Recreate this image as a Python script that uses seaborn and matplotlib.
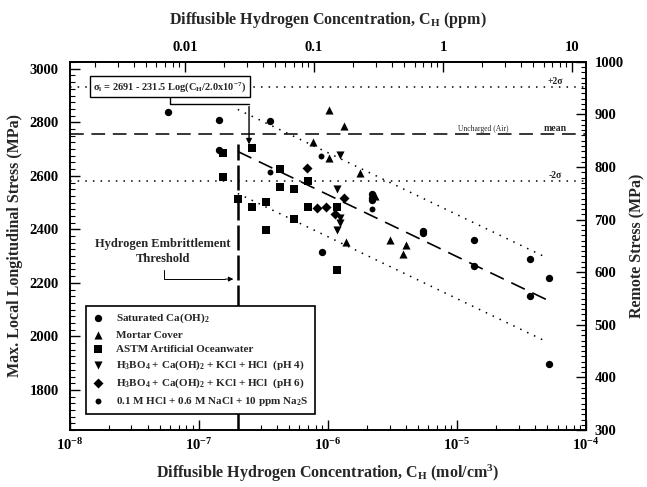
import numpy as np
import pandas as pd
import matplotlib
matplotlib.use("Agg")
import matplotlib.pyplot as plt
from matplotlib.ticker import FixedLocator, LogLocator, MultipleLocator, NullFormatter, FixedFormatter
import seaborn as sns

# ---- measured data: (concentration mol/cm^3, max local longitudinal stress MPa) ----
sat_caoh2_c = [5.75e-8, 1.43e-7, 1.43e-7, 3.55e-7, 8.98e-7, 2.19e-6, 2.19e-6, 2.19e-6,
               5.45e-6, 5.45e-6, 1.35e-5, 1.35e-5, 3.68e-5, 3.68e-5, 5.16e-5, 5.16e-5]
sat_caoh2_s = [2838, 2808, 2695, 2804, 2315, 2533, 2518, 2511,
               2394, 2387, 2360, 2263, 2289, 2150, 2217, 1898]

mortar_c = [1.02e-6, 1.33e-6, 7.66e-7, 1.02e-6, 1.77e-6, 2.31e-6, 1.38e-6, 3.03e-6, 4.03e-6, 3.81e-6]
mortar_s = [2845, 2786, 2725, 2665, 2609, 2526, 2353, 2360, 2342, 2308]

astm_c = [1.53e-7, 1.53e-7, 2.58e-7, 2.0e-7, 4.25e-7, 4.25e-7, 5.45e-7, 7.0e-7,
          2.58e-7, 3.30e-7, 3.30e-7, 5.45e-7, 7.0e-7, 1.17e-6, 1.17e-6]
astm_s = [2684, 2597, 2703, 2515, 2624, 2557, 2549, 2579,
          2485, 2503, 2398, 2439, 2485, 2485, 2248]

ph4_c = [1.24e-6, 1.17e-6, 1.24e-6, 1.24e-6, 1.17e-6]
ph4_s = [2676, 2549, 2443, 2424, 2398]

ph6_c = [6.87e-7, 1.33e-6, 8.22e-7, 9.64e-7, 1.13e-6]
ph6_s = [2628, 2518, 2481, 2485, 2458]

hcl_c = [3.55e-7, 8.83e-7, 2.19e-6]
hcl_s = [2616, 2673, 2477]

series_labels = [
    "Saturated Ca(OH)$_2$",
    "Mortar Cover",
    "ASTM Artificial Oceanwater",
    "H$_3$BO$_4$ + Ca(OH)$_2$ + KCl + HCl  (pH 4)",
    "H$_3$BO$_4$ + Ca(OH)$_2$ + KCl + HCl  (pH 6)",
    "0.1 M HCl + 0.6 M NaCl + 10 ppm Na$_2$S",
]

# regression and reference levels
fit_a, fit_b, c_threshold = 2691.0, 231.5, 2.0e-7
fit_c_end = 5.0e-5
band_halfwidth = 157.0
air_mean, air_sigma = 2755.0, 88.0
threshold_top = 2720.0

# axis tick values
bottom_ticks = [1e-8, 1e-7, 1e-6, 1e-5, 1e-4]
top_ticks = [0.01, 0.1, 1, 10]
top_tick_labels = ["0.01", "0.1", "1", "10"]
ppm_per_molcm3 = 1.0 / 7.8e-6

# ---- style ----
sns.set_theme(style="ticks")
plt.rcParams.update({
    "font.family": ["Liberation Serif", "DejaVu Serif"],
    "font.weight": "bold",
    "axes.labelweight": "bold",
    "mathtext.fontset": "custom",
    "mathtext.rm": "Liberation Serif:bold",
    "mathtext.it": "Liberation Serif:italic:bold",
    "mathtext.bf": "Liberation Serif:bold",
    "mathtext.default": "rm",
    "axes.linewidth": 1.2,
    "axes.edgecolor": "black",
    "xtick.color": "black",
    "ytick.color": "black",
})

fig = plt.figure(figsize=(6.47, 4.87), dpi=100)
ax = fig.add_axes([0.108, 0.117, 0.798, 0.756])

frames = []
for lab, c, s in zip(series_labels,
                     [sat_caoh2_c, mortar_c, astm_c, ph4_c, ph6_c, hcl_c],
                     [sat_caoh2_s, mortar_s, astm_s, ph4_s, ph6_s, hcl_s]):
    frames.append(pd.DataFrame({"conc": c, "stress": s, "solution": lab}))
df = pd.concat(frames, ignore_index=True)

marker_map = dict(zip(series_labels, ["o", "^", "s", "v", "D", "o"]))
size_map = dict(zip(series_labels, [28, 34, 32, 34, 26, 18]))

for lab in series_labels:
    sub = df[df["solution"] == lab]
    sns.scatterplot(data=sub, x="conc", y="stress", marker=marker_map[lab],
                    s=size_map[lab], color="black", edgecolor="black",
                    linewidth=0, label=lab, ax=ax, zorder=4)

ax.set_xscale("log")
ax.set_xlim(1e-8, 1e-4)
ax.set_ylim(1650, 3026)

# regression line and prediction band
fit_df = pd.DataFrame({"conc": np.logspace(np.log10(c_threshold), np.log10(fit_c_end), 50)})
fit_df["stress"] = fit_a - fit_b * np.log10(fit_df["conc"] / c_threshold)
sns.lineplot(data=fit_df, x="conc", y="stress", color="black", lw=1.2,
             dashes=False, ax=ax, legend=False).lines[-1].set_dashes((9, 5))
ax.plot(fit_df["conc"], fit_df["stress"] + band_halfwidth, color="black",
        lw=1.1, ls=(0, (1, 4)))
ax.plot(fit_df["conc"], fit_df["stress"] - band_halfwidth, color="black",
        lw=1.1, ls=(0, (1, 4)))

# uncharged (air) reference levels
ax.axhline(air_mean + 2 * air_sigma, color="black", lw=1.1, ls=(0, (1, 4)))
ax.axhline(air_mean, color="black", lw=1.1, ls=(0, (9, 5)))
ax.axhline(air_mean - 2 * air_sigma, color="black", lw=1.1, ls=(0, (1, 4)))
ax.text(5.75e-5, air_mean + 2 * air_sigma + 6, "+2σ", fontsize=7, ha="center", va="bottom")
ax.text(5.75e-5, air_mean + 6, "mean", fontsize=7, ha="center", va="bottom")
ax.text(5.75e-5, air_mean - 2 * air_sigma + 6, "-2σ", fontsize=7, ha="center", va="bottom")
ax.text(1.59e-5, air_mean + 6, "Uncharged (Air)", fontsize=5.5, ha="center", va="bottom",
        fontweight="normal")

# embrittlement threshold
ax.plot([c_threshold, c_threshold], [1650, threshold_top], color="black", lw=1.8,
        ls=(0, (10, 2)), zorder=3)
ax.text(0.180, 0.484, "Hydrogen Embrittlement\nThreshold", transform=ax.transAxes,
        ha="center", va="center", fontsize=9, linespacing=1.3)
ax.plot([0.182, 0.182, 0.300], [0.435, 0.410, 0.410], transform=ax.transAxes,
        color="black", lw=0.7)
ax.annotate("", xy=(0.322, 0.410), xytext=(0.296, 0.410), xycoords="axes fraction",
            arrowprops=dict(arrowstyle="-|>", color="black", lw=0.7,
                            mutation_scale=7))

# fit equation box with leader
ax.text(0.194, 0.932, r"σ$_l$ = 2691 - 231.5 Log(C$_H$/2.0x10$^{-7}$)",
        transform=ax.transAxes, ha="center", va="center", fontsize=7.5,
        bbox=dict(boxstyle="square,pad=0.35", fc="white", ec="black", lw=1.0), zorder=6)
ax.plot([0.194, 0.194, 0.347], [0.905, 0.885, 0.885], transform=ax.transAxes,
        color="black", lw=1.0, zorder=5)
ax.annotate("", xy=(0.347, 0.768), xytext=(0.347, 0.886), xycoords="axes fraction",
            arrowprops=dict(arrowstyle="-|>", color="black", lw=1.0,
                            mutation_scale=8), zorder=5)

# axes, ticks and labels
ax.xaxis.set_major_locator(FixedLocator(bottom_ticks))
ax.xaxis.set_minor_locator(LogLocator(base=10, subs=np.arange(2, 10)))
ax.xaxis.set_minor_formatter(NullFormatter())
ax.yaxis.set_major_locator(MultipleLocator(200))
ax.yaxis.set_minor_locator(MultipleLocator(25))
ax.tick_params(which="both", direction="in", top=False, right=False, labelsize=10.5)
ax.tick_params(axis="x", pad=5)
ax.tick_params(axis="y", pad=8)
ax.tick_params(which="major", length=7, width=1.0)
ax.tick_params(which="minor", length=3.5, width=0.8)
ax.set_xlabel("Diffusible Hydrogen Concentration, C$_H$ (mol/cm$^3$)", fontsize=11.5,
              labelpad=7)
ax.set_ylabel("Max. Local Longitudinal Stress (MPa)", fontsize=11.5, labelpad=5)

ax2 = ax.twinx()
ax2.set_ylim(300, 1000)
ax2.yaxis.set_major_locator(MultipleLocator(100))
ax2.yaxis.set_minor_locator(MultipleLocator(10))
ax2.tick_params(which="both", direction="in", labelsize=10.5, pad=6)
ax2.tick_params(which="major", length=7, width=1.0)
ax2.tick_params(which="minor", length=3.5, width=0.8)
ax2.set_ylabel("Remote Stress (MPa)", fontsize=11.5, labelpad=4)

top = ax.secondary_xaxis("top", functions=(lambda c: c * ppm_per_molcm3,
                                           lambda p: p / ppm_per_molcm3))
top.xaxis.set_major_locator(FixedLocator(top_ticks))
top.xaxis.set_major_formatter(FixedFormatter(top_tick_labels))
top.xaxis.set_minor_locator(LogLocator(base=10, subs=np.arange(2, 10)))
top.xaxis.set_minor_formatter(NullFormatter())
top.tick_params(which="both", direction="in", labelsize=10.5, pad=6)
top.tick_params(which="major", length=7, width=1.0)
top.tick_params(which="minor", length=3.5, width=0.8)
top.set_xlabel("Diffusible Hydrogen Concentration, C$_H$ (ppm)", fontsize=11.5, labelpad=12)

for a in (ax, ax2):
    for sp in a.spines.values():
        sp.set_visible(True)
        sp.set_linewidth(1.2)
        sp.set_color("black")

leg = ax.legend(loc="lower left", bbox_to_anchor=(0.031, 0.043), fontsize=8,
                frameon=True, fancybox=False, edgecolor="black", framealpha=1,
                handletextpad=1.2, borderpad=0.55, labelspacing=0.42, handlelength=1.0,
                borderaxespad=0)
leg.get_frame().set_linewidth(1.2)
leg.set_zorder(10)

fig.savefig("out.png", dpi=100)
